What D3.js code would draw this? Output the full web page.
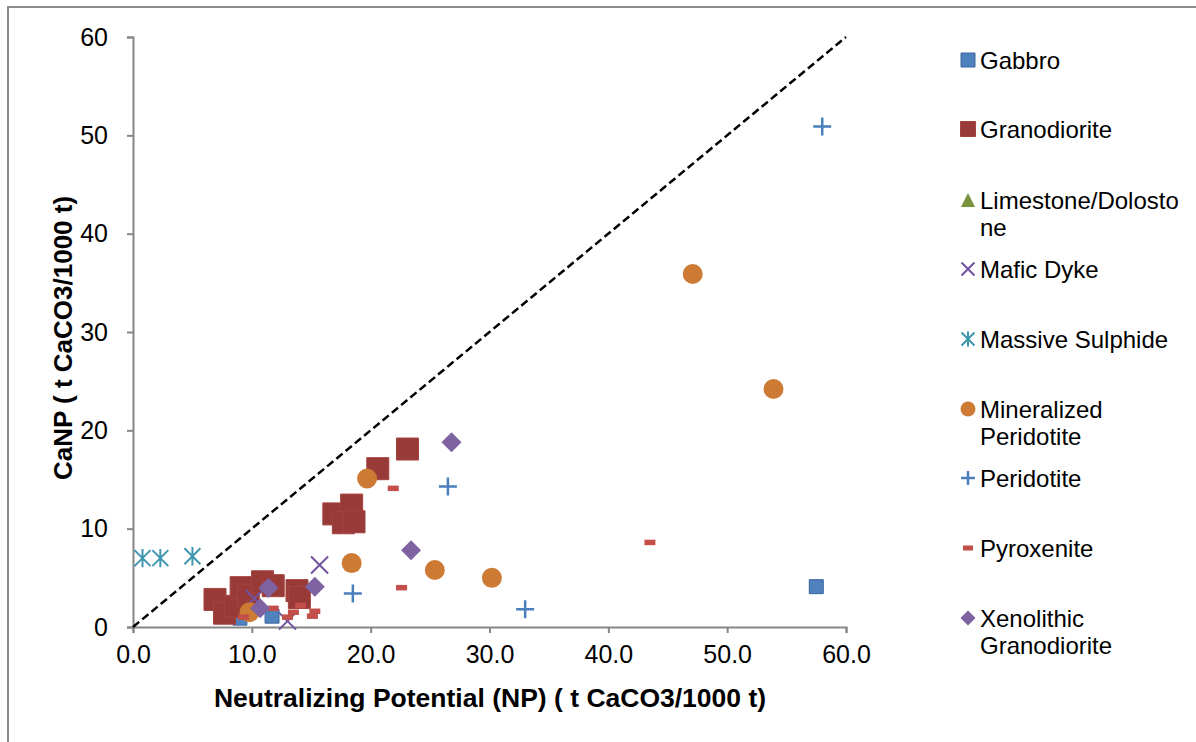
<!DOCTYPE html>
<html>
<head>
<meta charset="utf-8">
<script src="https://cdn.jsdelivr.net/npm/d3@7"></script>
<style>
  body { margin: 0; background: #fff; }
  text { font-family: "Liberation Sans", Arial, sans-serif; fill: #000; }
</style>
</head>
<body>
<div id="chart"></div>
<script>
// series data, [NP, CaNP] pairs
var gabbro = [[9.0, 0.9], [11.7, 1.1], [57.5, 4.1]];
var granodiorite = [[6.9, 2.8], [7.7, 1.4], [8.6, 2.1], [9.1, 4.0], [9.7, 3.2],
  [10.9, 4.6], [11.8, 4.2], [13.8, 3.7], [14.0, 3.0], [16.9, 11.5], [18.4, 12.4],
  [17.7, 10.6], [18.6, 10.7], [20.6, 16.1], [23.1, 18.1]];
var limestone = [];
var maficDyke = [[10.2, 2.9], [13.0, 0.6], [15.7, 6.3]];
var massiveSulphide = [[0.8, 7.0], [2.3, 7.0], [5.0, 7.2]];
var mineralizedPeridotite = [[9.8, 1.5], [18.4, 6.5], [19.7, 15.1], [25.4, 5.8],
  [30.2, 5.0], [47.1, 35.9], [53.9, 24.2]];
var peridotite = [[18.5, 3.4], [26.5, 14.3], [33.0, 1.8], [58.0, 50.9]];
var pyroxenite = [[9.3, 1.0], [11.8, 1.9], [13.0, 1.0], [13.5, 1.5], [14.1, 2.2],
  [15.1, 1.1], [15.3, 1.6], [21.9, 14.1], [22.6, 4.0], [43.5, 8.6]];
var xenolithic = [[10.7, 1.9], [11.4, 4.0], [15.3, 4.1], [23.4, 7.8], [26.8, 18.8]];

var xTicks = [0, 10, 20, 30, 40, 50, 60];
var yTicks = [0, 10, 20, 30, 40, 50, 60];

var seriesNames = ["Gabbro", "Granodiorite", "Limestone/Dolostone", "Mafic Dyke",
  "Massive Sulphide", "Mineralized Peridotite", "Peridotite", "Pyroxenite",
  "Xenolithic Granodiorite"];

// marker shapes (path strings centred on 0,0)
function marker(type, s) {
  var h = s / 2;
  if (type == "square") return "M" + -h + "," + -h + "h" + s + "v" + s + "h" + -s + "Z";
  if (type == "circle") return "M" + -h + ",0a" + h + "," + h + " 0 1,0 " + s + ",0a" + h + "," + h + " 0 1,0 " + -s + ",0Z";
  if (type == "diamond") return "M0," + -h + "L" + h + ",0L0," + h + "L" + -h + ",0Z";
  if (type == "triangle") return "M0," + -h + "L" + h + "," + h + "L" + -h + "," + h + "Z";
  if (type == "times") return "M" + -h + "," + -h + "L" + h + "," + h + "M" + h + "," + -h + "L" + -h + "," + h;
  if (type == "plus") return "M" + -h + ",0H" + h + "M0," + -h + "V" + h;
  if (type == "star") return "M" + -h + "," + -h + "L" + h + "," + h + "M" + h + "," + -h + "L" + -h + "," + h + "M0," + -h * 1.15 + "V" + h * 1.15;
  if (type == "dash") return "M" + -h + "," + -s / 4 + "h" + s + "v" + s / 2 + "h" + -s + "Z";
}

var styles = [
  {data: gabbro, type: "square", size: 14, lsize: 14, fill: "#4F81BD", stroke: "#3A679E"},
  {data: granodiorite, type: "square", size: 22, lsize: 15, fill: "#983A37", stroke: "#A5433F"},
  {data: limestone, type: "triangle", size: 14, lsize: 14, fill: "#77933C", stroke: "none"},
  {data: maficDyke, type: "times", size: 17, lsize: 13, fill: "none", stroke: "#7153A0", sw: 2},
  {data: massiveSulphide, type: "star", size: 16, lsize: 13, fill: "none", stroke: "#3E97AE", sw: 2},
  {data: mineralizedPeridotite, type: "circle", size: 20, lsize: 15, fill: "#CD7A35", stroke: "none"},
  {data: peridotite, type: "plus", size: 18, lsize: 14, fill: "none", stroke: "#4A7EBC", sw: 2.5},
  {data: pyroxenite, type: "dash", size: 11, lsize: 10, fill: "#C34E4A", stroke: "none"},
  {data: xenolithic, type: "diamond", size: 20, lsize: 15, fill: "#7F62A2", stroke: "none"}
];

var W = 1196, H = 742;
var svg = d3.select("#chart").append("svg")
  .attr("width", W).attr("height", H);

// outer chart border
svg.append("rect")
  .attr("x", 8).attr("y", 7)
  .attr("width", W + 20).attr("height", H + 20)
  .attr("fill", "#fff").attr("stroke", "#8c8c8c").attr("stroke-width", 2);

var x = d3.scaleLinear().domain([0, 60]).range([133, 846]);
var y = d3.scaleLinear().domain([0, 60]).range([627, 37]);

// axes
var xAxis = svg.append("g")
  .attr("transform", "translate(0," + y(0) + ")")
  .call(d3.axisBottom(x).tickValues(xTicks).tickSize(6).tickPadding(12)
    .tickFormat(d3.format(".1f")));
var yAxis = svg.append("g")
  .attr("transform", "translate(" + x(0) + ",0)")
  .call(d3.axisLeft(y).tickValues(yTicks).tickSize(6).tickPadding(19)
    .tickFormat(d3.format("d")));
[xAxis, yAxis].forEach(function(a) {
  a.select(".domain").attr("stroke", "#868686").attr("stroke-width", 2);
  a.selectAll(".tick line").attr("stroke", "#868686").attr("stroke-width", 2);
  a.selectAll(".tick text").attr("font-size", 25)
    .attr("font-family", "Liberation Sans, Arial, sans-serif").attr("fill", "#000");
});

// 1:1 line
svg.append("line")
  .attr("x1", x(0)).attr("y1", y(0))
  .attr("x2", x(60)).attr("y2", y(60))
  .attr("stroke", "#000").attr("stroke-width", 2.5)
  .attr("stroke-dasharray", "8,4");

// points
styles.forEach(function(st) {
  svg.append("g").selectAll("path")
    .data(st.data)
    .enter()
    .append("path")
      .attr("transform", function(d) { return "translate(" + x(d[0]) + "," + y(d[1]) + ")"; })
      .attr("d", marker(st.type, st.size))
      .attr("fill", st.fill)
      .attr("stroke", st.stroke)
      .attr("stroke-width", st.sw || 1);
});

// axis titles
svg.append("text")
  .attr("x", 490).attr("y", 707)
  .attr("text-anchor", "middle")
  .attr("font-size", 26.5).attr("font-weight", "bold")
  .text("Neutralizing Potential (NP) ( t CaCO3/1000 t)");
svg.append("text")
  .attr("transform", "translate(72,338) rotate(-90)")
  .attr("text-anchor", "middle")
  .attr("font-size", 26).attr("font-weight", "bold")
  .text("CaNP ( t CaCO3/1000 t)");

// legend
var legendY = [60, 129, 200, 269, 339, 409, 478, 548, 618];
var legendLines = [["Gabbro"], ["Granodiorite"], ["Limestone/Dolosto", "ne"], ["Mafic Dyke"],
  ["Massive Sulphide"], ["Mineralized", "Peridotite"], ["Peridotite"], ["Pyroxenite"],
  ["Xenolithic", "Granodiorite"]];
var legend = svg.append("g");
styles.forEach(function(st, i) {
  var g = legend.append("g").attr("transform", "translate(968," + legendY[i] + ")");
  g.append("path")
    .attr("d", marker(st.type, st.lsize))
    .attr("fill", st.fill)
    .attr("stroke", st.type == "triangle" ? "none" : st.stroke)
    .attr("stroke-width", st.sw || 1);
  var t = g.append("text").attr("x", 12).attr("y", 8.5).attr("font-size", 24);
  t.selectAll("tspan")
    .data(legendLines[i])
    .enter()
    .append("tspan")
      .attr("x", 12)
      .attr("dy", function(d, j) { return j == 0 ? 0 : 27; })
      .text(function(d) { return d; });
});
</script>
</body>
</html>
